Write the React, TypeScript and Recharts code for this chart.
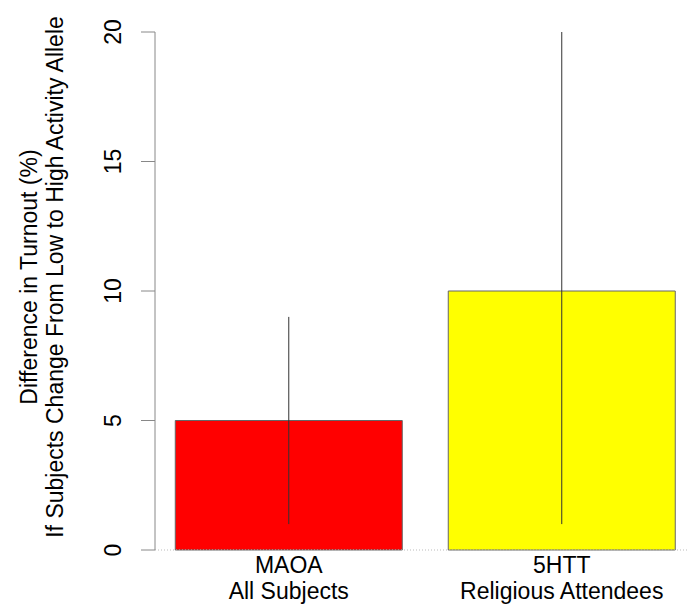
import { BarChart, Bar, Cell, XAxis, YAxis, ErrorBar, ReferenceLine } from "recharts";

const categories = ["MAOA", "5HTT"];
const subtitles = ["All Subjects", "Religious Attendees"];
const positions = [0.7, 1.9];
const effects = [5, 10];
const lowerBounds = [1, 1];
const upperBounds = [9, 20];
const barColors = ["#FF0000", "#FFFF00"];
const yTicks = [0, 5, 10, 15, 20];
const titleLines = [
  "Difference in Turnout (%)",
  "If Subjects Change From Low to High Activity Allele",
];

const data = categories.map((name, i) => ({
  name,
  sub: subtitles[i],
  pos: positions[i],
  effect: effects[i],
  err: [effects[i] - lowerBounds[i], upperBounds[i] - effects[i]],
}));

const FONT = "'Liberation Sans', Arial, Helvetica, sans-serif";

const YTick = (props: any) => {
  const { x, y, payload } = props;
  return (
    <text
      x={x}
      y={y}
      transform={`rotate(-90, ${x}, ${y})`}
      textAnchor="middle"
      fontSize={23}
      fontFamily={FONT}
      fill="#000"
    >
      {payload.value}
    </text>
  );
};

const XTick = (props: any) => {
  const { x, y, index } = props;
  return (
    <text textAnchor="middle" fontSize={23} fontFamily={FONT} fill="#000">
      <tspan x={x} y={y + 23}>
        {categories[index]}
      </tspan>
      <tspan x={x} y={y + 49}>
        {subtitles[index]}
      </tspan>
    </text>
  );
};

const YTitle = () => (
  <g>
    {titleLines.map((line, i) => (
      <text
        key={line}
        x={37 + i * 26}
        y={277}
        transform={`rotate(-90, ${37 + i * 26}, 277)`}
        textAnchor="middle"
        fontSize={23}
        fontFamily={FONT}
        fill="#000"
      >
        {line}
      </text>
    ))}
  </g>
);

export default function App() {
  return (
    <div
      style={{
        position: "fixed",
        left: 0,
        top: 0,
        width: 687,
        height: 606,
        overflow: "hidden",
        background: "#fff",
      }}
    >
      <BarChart
        width={700}
        height={606}
        data={data}
        margin={{ top: 32, right: 4.5, bottom: 0, left: 0 }}
      >
        <XAxis
          type="number"
          dataKey="pos"
          domain={[0.112, 2.488]}
          ticks={positions}
          axisLine={false}
          tickLine={false}
          tickSize={0}
          tickMargin={0}
          height={56}
          tick={<XTick />}
          interval={0}
        />
        <YAxis
          domain={[0, 20]}
          ticks={yTicks}
          width={155}
          stroke="#888"
          tickSize={14}
          tickMargin={20}
          tick={<YTick />}
          interval={0}
          label={<YTitle />}
        />
        <ReferenceLine y={0} stroke="#bbb" strokeDasharray="1 2" />
        <Bar
          dataKey="effect"
          barSize={227}
          stroke="#666"
          strokeWidth={1}
          isAnimationActive={false}
        >
          {data.map((d, i) => (
            <Cell key={d.name} fill={barColors[i]} />
          ))}
          <ErrorBar
            dataKey="err"
            width={0}
            stroke="#333"
            strokeWidth={1}
            direction="y"
            isAnimationActive={false}
          />
        </Bar>
      </BarChart>
    </div>
  );
}
